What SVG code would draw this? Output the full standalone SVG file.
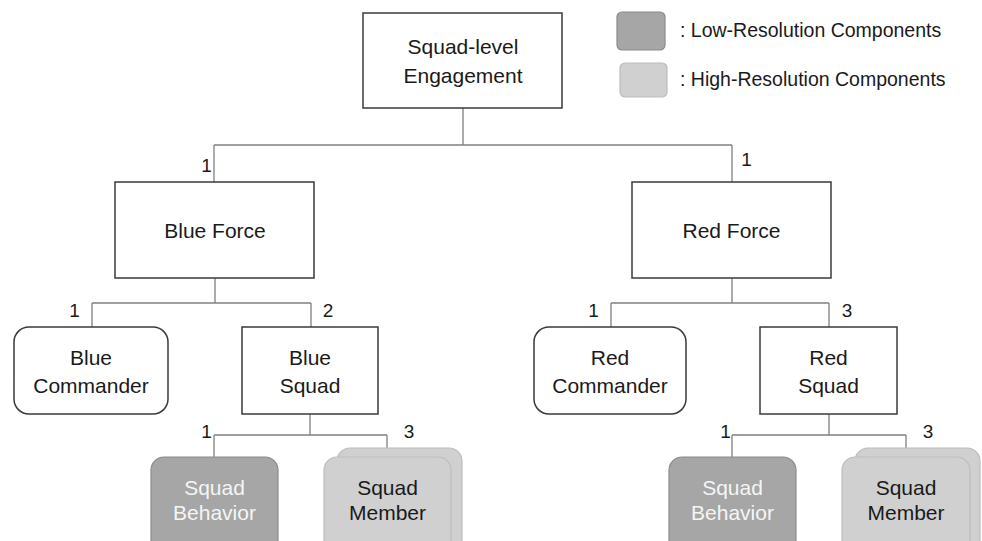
<svg xmlns="http://www.w3.org/2000/svg" width="982" height="541" viewBox="0 0 982 541">
<style>
  .box { fill: #ffffff; stroke: #3a3a3a; stroke-width: 1.5; }
  .low { fill: #a6a6a6; stroke: #8a8a8a; stroke-width: 1.2; }
  .high { fill: #d0d0d0; stroke: #bdbdbd; stroke-width: 1.2; }
  .conn { fill: none; stroke: #808080; stroke-width: 1.3; }
  .t { font-family: "Liberation Sans", Arial, sans-serif; font-size: 21px; fill: #1a1a1a; text-anchor: middle; }
  .tw { font-family: "Liberation Sans", Arial, sans-serif; font-size: 21px; fill: #f5f5f5; text-anchor: middle; }
  .num { font-family: "Liberation Sans", Arial, sans-serif; font-size: 19px; fill: #1a1a1a; text-anchor: middle; }
  .leg { font-family: "Liberation Sans", Arial, sans-serif; font-size: 19.5px; fill: #1a1a1a; }
</style>
<rect width="982" height="541" fill="#ffffff"/>

<g id="connectors">
  <path class="conn" d="M463 108 V145 M214 145 H732 M214 145 V182 M732 145 V182"/>
  <path class="conn" d="M215 278 V303 M92 303 H311 M92 303 V327 M311 303 V327"/>
  <path class="conn" d="M732 278 V303 M611 303 H829 M611 303 V327 M829 303 V327"/>
  <path class="conn" d="M310 414 V435 M214 435 H387 M214 435 V457 M387 435 V457"/>
  <path class="conn" d="M829 414 V435 M732 435 H906 M732 435 V457 M906 435 V457"/>
</g>

<g id="labels">
  <text class="num" x="206.5" y="172">1</text>
  <text class="num" x="746.5" y="166">1</text>
  <text class="num" x="74.5" y="317">1</text>
  <text class="num" x="328" y="317">2</text>
  <text class="num" x="593.5" y="317">1</text>
  <text class="num" x="847" y="317">3</text>
  <text class="num" x="206.5" y="438">1</text>
  <text class="num" x="409" y="438">3</text>
  <text class="num" x="725.5" y="438">1</text>
  <text class="num" x="928" y="438">3</text>
</g>

<g id="legend">
  <rect class="low" x="617" y="12" width="48" height="38" rx="5"/>
  <text class="leg" x="680" y="37">: Low-Resolution Components</text>
  <rect class="high" x="620" y="63" width="47" height="34" rx="5"/>
  <text class="leg" x="680" y="86">: High-Resolution Components</text>
</g>

<g id="squad-level-engagement">
  <rect class="box" x="363" y="13" width="199" height="95"/>
  <text class="t" x="463" y="54">Squad-level</text>
  <text class="t" x="463" y="83">Engagement</text>
</g>

<g id="blue-force">
  <rect class="box" x="115" y="182" width="199" height="96"/>
  <text class="t" x="215" y="238">Blue Force</text>
</g>

<g id="red-force">
  <rect class="box" x="632" y="182" width="199" height="96"/>
  <text class="t" x="731.5" y="238">Red Force</text>
</g>

<g id="blue-commander">
  <rect class="box" x="14" y="327" width="154" height="87" rx="15"/>
  <text class="t" x="91" y="365">Blue</text>
  <text class="t" x="91" y="393">Commander</text>
</g>

<g id="blue-squad">
  <rect class="box" x="242" y="327" width="136" height="87"/>
  <text class="t" x="310" y="365">Blue</text>
  <text class="t" x="310" y="393">Squad</text>
</g>

<g id="red-commander">
  <rect class="box" x="534" y="327" width="152" height="87" rx="15"/>
  <text class="t" x="610" y="365">Red</text>
  <text class="t" x="610" y="393">Commander</text>
</g>

<g id="red-squad">
  <rect class="box" x="760" y="327" width="137" height="87"/>
  <text class="t" x="828.5" y="365">Red</text>
  <text class="t" x="828.5" y="393">Squad</text>
</g>

<g id="blue-squad-behavior">
  <rect class="low" x="151" y="457" width="127" height="110" rx="13"/>
  <text class="tw" x="214.5" y="495">Squad</text>
  <text class="tw" x="214.5" y="520">Behavior</text>
</g>

<g id="blue-squad-member">
  <rect class="high" x="337" y="448" width="125" height="110" rx="13"/>
  <rect class="high" x="324" y="457" width="127" height="110" rx="13"/>
  <text class="t" x="387.5" y="495">Squad</text>
  <text class="t" x="387.5" y="520">Member</text>
</g>

<g id="red-squad-behavior">
  <rect class="low" x="669" y="457" width="127" height="110" rx="13"/>
  <text class="tw" x="732.5" y="495">Squad</text>
  <text class="tw" x="732.5" y="520">Behavior</text>
</g>

<g id="red-squad-member">
  <rect class="high" x="855" y="448" width="125" height="110" rx="13"/>
  <rect class="high" x="842" y="457" width="128" height="110" rx="13"/>
  <text class="t" x="906" y="495">Squad</text>
  <text class="t" x="906" y="520">Member</text>
</g>
</svg>
